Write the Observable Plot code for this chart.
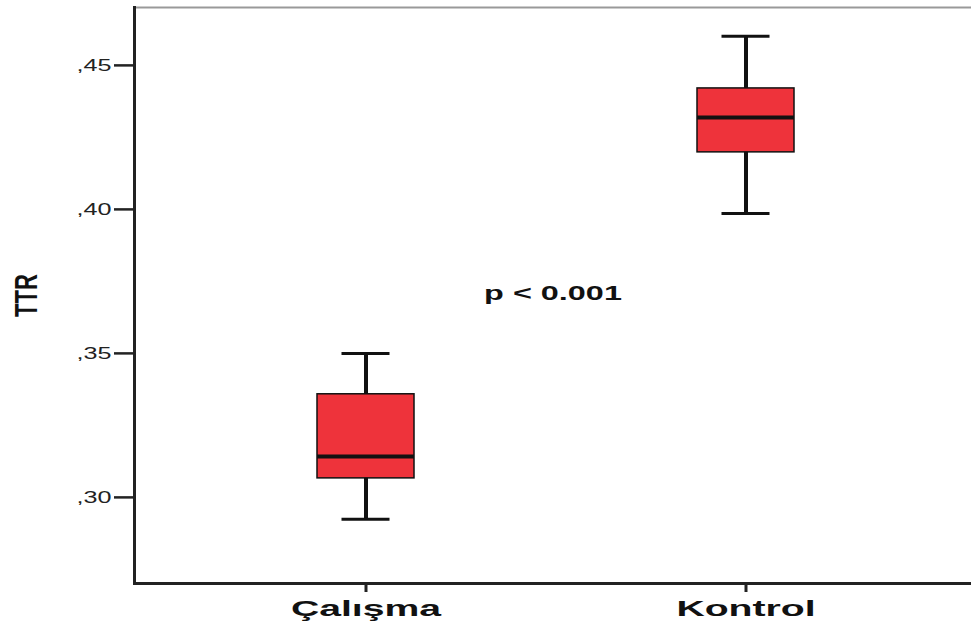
<!DOCTYPE html>
<html>
<head>
<meta charset="utf-8">
<script src="https://cdn.jsdelivr.net/npm/d3@7"></script>
<script src="https://cdn.jsdelivr.net/npm/@observablehq/plot@0.6"></script>
<style>
  html, body { margin: 0; padding: 0; background: #fff; }
</style>
</head>
<body>
<script>
// Categories and box-plot statistics
const groups = ["Çalışma", "Kontrol"];
const whiskerLow = [0.2924, 0.3986];
const quartile1 = [0.3066, 0.4198];
const median = [0.3142, 0.4319];
const quartile3 = [0.3358, 0.4420];
const whiskerHigh = [0.3500, 0.4601];
const yTicks = [0.30, 0.35, 0.40, 0.45];
const yLabel = ["TTR"];
const annotation = [{text: "p < 0.001", y: 0.3708}];

const stats = groups.map((g, i) => ({
  group: g,
  lo: whiskerLow[i],
  q1: quartile1[i],
  med: median[i],
  q3: quartile3[i],
  hi: whiskerHigh[i]
}));

const ink = "#111";

const chart = Plot.plot({
  width: 971,
  height: 628,
  marginLeft: 134,
  marginRight: 0,
  marginTop: 7,
  marginBottom: 45,
  style: {fontFamily: "'Liberation Sans', Arial, sans-serif", fontSize: "17px", color: "#222", background: "#fff"},
  x: {domain: groups, range: [34.5, 1077.5], padding: 0.7447, label: null},
  y: {domain: [0.2701, 0.4701], label: null},
  marks: [
    Plot.frame({anchor: "top", stroke: "#999", strokeWidth: 2}),
    Plot.frame({anchor: "left", stroke: "#222", strokeWidth: 3}),
    Plot.frame({anchor: "bottom", stroke: "#222", strokeWidth: 3}),
    Plot.ruleX(stats, {x: "group", y1: "lo", y2: "hi", stroke: ink, strokeWidth: 4}),
    Plot.tickY(stats, {x: "group", y: "lo", stroke: ink, strokeWidth: 3, insetLeft: 24.5, insetRight: 24.5}),
    Plot.tickY(stats, {x: "group", y: "hi", stroke: ink, strokeWidth: 3, insetLeft: 24.5, insetRight: 24.5}),
    Plot.barY(stats, {x: "group", y1: "q1", y2: "q3", fill: "#EE333B", stroke: ink, strokeWidth: 1.5}),
    Plot.tickY(stats, {x: "group", y: "med", stroke: ink, strokeWidth: 4}),
    Plot.axisY({
      ticks: yTicks,
      tickFormat: d => d.toFixed(2).replace("0.", ","),
      tickSize: 20,
      tickPadding: 3,
      strokeWidth: 2.5,
      fontSize: 17,
      label: null
    }),
    Plot.axisX({
      tickSize: 9,
      tickPadding: 8,
      strokeWidth: 3,
      fontSize: 22,
      fontWeight: "bold",
      fill: ink,
      label: null
    }),
    Plot.text(yLabel, {
      text: d => d,
      frameAnchor: "left",
      textAnchor: "middle",
      lineAnchor: "middle",
      rotate: -90,
      dx: -108,
      fontSize: 22,
      fontWeight: "bold",
      fill: ink
    }),
    Plot.text(annotation, {
      y: "y",
      text: "text",
      frameAnchor: "middle",
      fontSize: 20,
      fontWeight: "bold",
      fill: ink
    })
  ]
});

document.body.append(chart);

// The reference image is horizontally stretched: widen the text to match.
function stretch(t, k) {
  const w = t.getComputedTextLength();
  t.setAttribute("textLength", (w * k).toFixed(1));
  t.setAttribute("lengthAdjust", "spacingAndGlyphs");
}
const yTickText = new Set(yTicks.map(d => d.toFixed(2).replace("0.", ",")));
chart.querySelectorAll("text").forEach(t => {
  const s = t.textContent;
  if (yTickText.has(s)) stretch(t, 1.48);
  else if (groups.includes(s)) stretch(t, 1.78);
  else if (s === annotation[0].text) stretch(t, 1.62);
  else if (s === yLabel[0]) {
    const tr = t.getAttribute("transform") || "";
    t.setAttribute("transform", tr + " scale(1,1.45)");
  }
});
</script>
</body>
</html>
